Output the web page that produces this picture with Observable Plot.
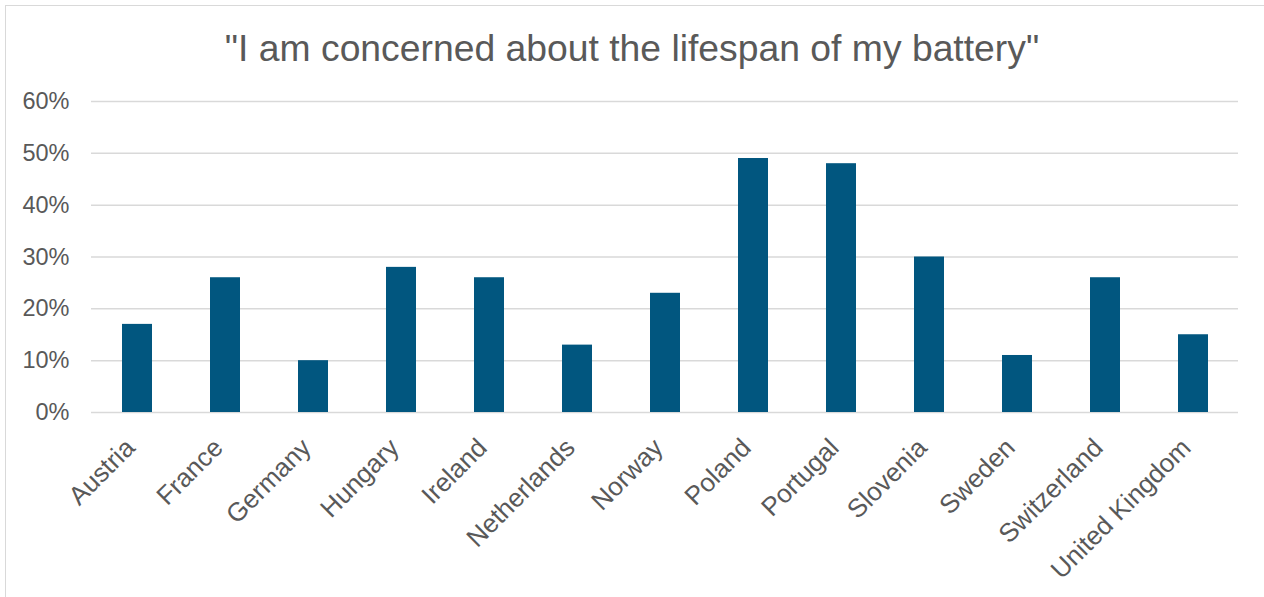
<!DOCTYPE html>
<html>
<head>
<meta charset="utf-8">
<script src="https://cdn.jsdelivr.net/npm/d3@7"></script>
<script src="https://cdn.jsdelivr.net/npm/@observablehq/plot@0.6"></script>
<style>
  html, body { margin: 0; padding: 0; background: #fff; overflow: hidden; width: 1264px; height: 597px; }
  #frame { position: absolute; left: 5px; top: 5px; width: 1400px; height: 800px; border: 1px solid #d9d9d9; box-sizing: border-box; }
  #title { position: absolute; left: 0; top: 26px; width: 1264px; text-align: center; font-family: "Liberation Sans", Arial, sans-serif; font-size: 37.3px; color: #595959; line-height: 44px; }
  #chart { position: absolute; left: 0; top: 85px; }
</style>
</head>
<body>
<div id="frame"></div>
<div id="title">"I am concerned about the lifespan of my battery"</div>
<div id="chart"></div>
<script>
const countries = ["Austria","France","Germany","Hungary","Ireland","Netherlands","Norway","Poland","Portugal","Slovenia","Sweden","Switzerland","United Kingdom"];
const shares = [0.17,0.26,0.10,0.28,0.26,0.13,0.23,0.49,0.48,0.30,0.11,0.26,0.15];
const yTicks = [0,0.1,0.2,0.3,0.4,0.5,0.6];

const data = countries.map((c, i) => ({country: c, share: shares[i]}));

const chart = Plot.plot({
  width: 1264,
  height: 510,
  marginLeft: 91,
  marginRight: 26,
  marginTop: 16,
  marginBottom: 183,
  style: {fontFamily: "'Liberation Sans', Arial, sans-serif", color: "#595959", background: "transparent"},
  x: {domain: countries, paddingInner: 0.66, paddingOuter: 0.33, label: null},
  y: {domain: [0, 0.6], label: null},
  marks: [
    Plot.gridY(yTicks, {stroke: "#d9d9d9", strokeOpacity: 1, strokeWidth: 1.5}),
    Plot.barY(data, {x: "country", y: "share", fill: "#01567f"}),
    Plot.axisY({ticks: yTicks, tickFormat: d3.format(".0%"), tickSize: 0, tickPadding: 22, label: null, fontSize: 23.5, fill: "#595959"}),
    Plot.axisX({tickSize: 0, tickRotate: -45, tickPadding: 31, dx: -7, label: null, fontSize: 26, fill: "#595959"})
  ]
});
document.getElementById("chart").appendChild(chart);
</script>
</body>
</html>
